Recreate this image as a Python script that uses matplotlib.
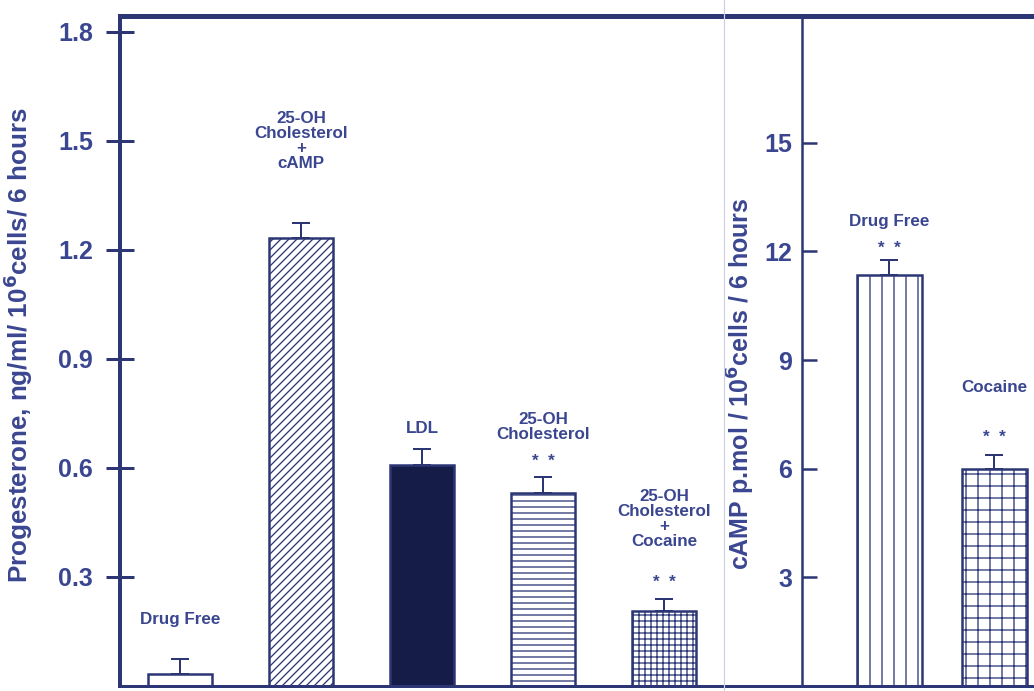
import matplotlib
matplotlib.use("Agg")
import matplotlib.pyplot as plt
from matplotlib.lines import Line2D

# progesterone output, 6 h incubation
prog_labels = ["Drug Free", "25-OH\nCholesterol\n+\ncAMP", "LDL",
               "25-OH\nCholesterol", "25-OH\nCholesterol\n+\nCocaine"]
prog_means = [0.033, 1.233, 0.608, 0.531, 0.206]
prog_err = [0.041, 0.041, 0.044, 0.044, 0.033]
prog_stars = ["", "", "", "*  *", "*  *"]
prog_ticks = [0.3, 0.6, 0.9, 1.2, 1.5, 1.8]

# cAMP output, 6 h incubation
camp_labels = ["Drug Free", "Cocaine"]
camp_means = [11.34, 6.0]
camp_err = [0.41, 0.39]
camp_stars = ["*  *", "*  *"]
camp_ticks = [3, 6, 9, 12, 15]

LINE = "#2c3675"
TEXT = "#3a4690"
DARK = "#161c48"

plt.rcParams["font.family"] = ["Liberation Sans", "DejaVu Sans"]
plt.rcParams["font.weight"] = "bold"
plt.rcParams["hatch.linewidth"] = 1.3
plt.rcParams["hatch.color"] = LINE

W, H = 1034, 691
fig = plt.figure(figsize=(W / 72, H / 72), dpi=72)
fig.patch.set_facecolor("white")

bottom = (H - 686) / H
height = 670 / H

# ---- progesterone panel ----
ax1 = fig.add_axes([120 / W, bottom, 682 / W, height])
x1 = range(len(prog_means))
fills = ["white", "white", DARK, "white", "white"]
hatches = [None, "///", None, "--", "++"]
bars = ax1.bar(x1, prog_means, width=0.53, color=fills, edgecolor=LINE,
               linewidth=2.5, zorder=2)
for b, h in zip(bars, hatches):
    if h:
        b.set_hatch(h)
ax1.errorbar(x1, prog_means, yerr=[[0] * len(prog_err), prog_err], fmt="none",
             ecolor=LINE, elinewidth=2, capsize=9, capthick=2, zorder=1)

ax1.set_xlim(-0.496, 5.14)
ax1.set_ylim(0, 1.844)
ax1.set_yticks(prog_ticks)
ax1.set_yticklabels([f"{t:.1f}" for t in prog_ticks])
ax1.set_xticks([])
ax1.tick_params(axis="y", direction="inout", length=28, width=3, pad=13,
                labelsize=25, colors=LINE, labelcolor=TEXT)
for s in ["left", "top", "bottom"]:
    ax1.spines[s].set_color(LINE)
ax1.spines["left"].set_linewidth(4)
ax1.spines["top"].set_linewidth(5)
ax1.spines["bottom"].set_linewidth(3)
ax1.spines["right"].set_visible(False)
ax1.set_ylabel("Progesterone, ng/ml/ 10$^{\\mathbf{6}}$cells/ 6 hours",
               fontsize=26, fontweight="bold", color=TEXT)
ax1.yaxis.set_label_coords(-0.125, 0.509)

label_y = [0.182, 1.50, 0.71, 0.713, 0.46]
star_y = [0, 0, 0, 0.617, 0.286]
for i, (lab, ly) in enumerate(zip(prog_labels, label_y)):
    ax1.text(i, ly, lab, ha="center", va="center", fontsize=17, color=TEXT,
             linespacing=1.0)
    if prog_stars[i]:
        ax1.text(i, star_y[i], prog_stars[i], ha="center", va="center",
                 fontsize=17, color=TEXT)

# ---- cAMP panel ----
ax2 = fig.add_axes([802 / W, bottom, 398 / W, height])
x2 = range(len(camp_means))
bars2 = ax2.bar(x2, camp_means, width=0.61, color="white", edgecolor=LINE,
                linewidth=2.5, zorder=2)
for b, h in zip(bars2, ["|", "+"]):
    b.set_hatch(h)
ax2.errorbar(x2, camp_means, yerr=[[0] * len(camp_err), camp_err], fmt="none",
             ecolor=LINE, elinewidth=2, capsize=9, capthick=2, zorder=1)

ax2.set_xlim(-0.833, 2.957)
ax2.set_ylim(0, 18.5)
ax2.set_yticks(camp_ticks)
ax2.set_xticks([])
ax2.tick_params(axis="y", direction="in", length=15, width=2.5, pad=10,
                labelsize=25, colors=LINE, labelcolor=TEXT)
for s in ["left", "top", "bottom"]:
    ax2.spines[s].set_color(LINE)
ax2.spines["left"].set_linewidth(2.5)
ax2.spines["top"].set_linewidth(5)
ax2.spines["bottom"].set_linewidth(3)
ax2.spines["right"].set_visible(False)
ax2.set_ylabel("cAMP p.mol / 10$^{\\mathbf{6}}$cells / 6 hours",
               fontsize=25, fontweight="bold", color=TEXT)
ax2.yaxis.set_label_coords(-0.113, 0.451)

camp_label_y = [12.82, 8.23]
camp_star_y = [12.07, 6.85]
for i, lab in enumerate(camp_labels):
    ax2.text(i, camp_label_y[i], lab, ha="center", va="center", fontsize=17,
             color=TEXT)
    ax2.text(i, camp_star_y[i], camp_stars[i], ha="center", va="center",
             fontsize=17, color=TEXT)

# faint page crease between the panels
fig.add_artist(Line2D([724 / W, 724 / W], [0, 1], transform=fig.transFigure,
                      color="#cfd0e2", lw=1.2))

fig.savefig("out.png", dpi=72, facecolor="white")
